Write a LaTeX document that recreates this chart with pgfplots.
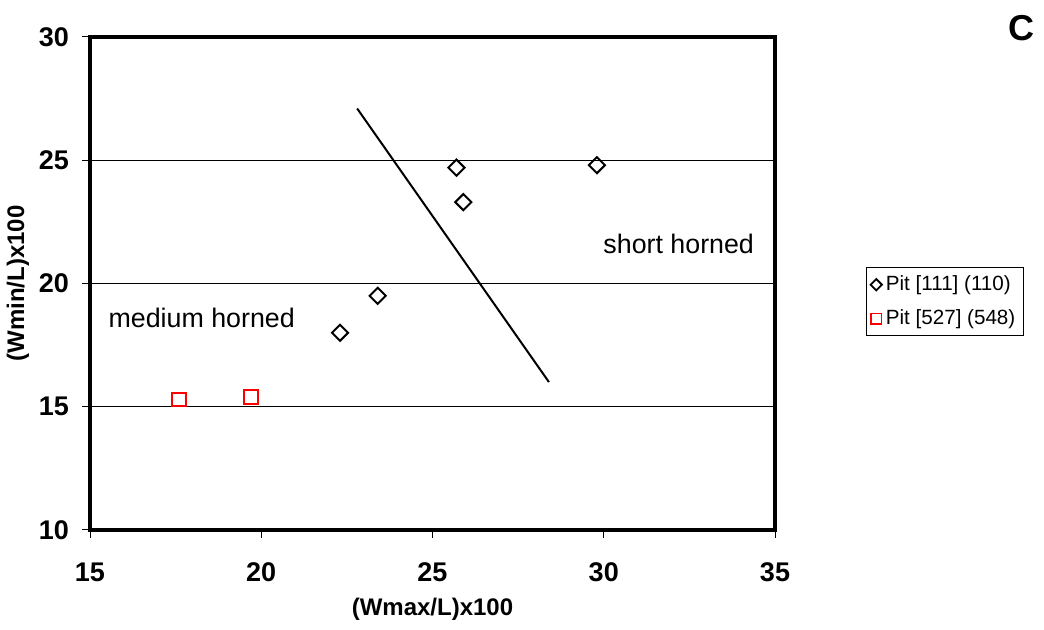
\documentclass[border=0pt]{standalone}
\usepackage{fontspec}
\setmainfont{Liberation Sans}
\usepackage{pgfplots}
\pgfplotsset{compat=1.18}
\pgfplotsset{
  smalldiamond/.style={legend image code/.code={\draw[##1, mark size=2pt, line width=0.9pt] plot coordinates {(0.13cm,0cm)};}},
  smallsquare/.style={legend image code/.code={\draw[##1, mark size=2.6pt, line width=0.9pt] plot coordinates {(0.13cm,0cm)};}},
}
\begin{document}
\begin{tikzpicture}
\path[use as bounding box] (0,0) rectangle (522pt,315pt);
\begin{axis}[
  at={(45pt,50pt)}, anchor=south west,
  scale only axis, width=342.5pt, height=246.5pt,
  xmin=15, xmax=35, ymin=10, ymax=30,
  xtick={15,20,25,30,35}, ytick={10,15,20,25,30},
  tick align=outside, major tick length=4pt,
  tick style={black, line width=0.5pt},
  xtick pos=bottom, ytick pos=left,
  axis line style={line width=2pt},
  ymajorgrids, grid style={black, line width=0.5pt},
  /pgf/number format/assume math mode=true,
  ticklabel style={font=\fontsize{13.5}{15}\selectfont\bfseries},
  xticklabel style={yshift=-9pt},
  yticklabel style={xshift=-3pt},
  xlabel={(Wmax/L)x100}, ylabel={(Wmin/L)x100},
  label style={font=\fontsize{12}{14}\selectfont\bfseries},
  xlabel style={yshift=-1pt},
  ylabel style={yshift=-2pt},
  legend style={at={(1.133,0.533)}, anchor=north west, draw=black, line width=0.5pt,
    font=\fontsize{10.3}{12}\selectfont, inner sep=2pt, row sep=4pt,
    legend cell align=left},
  clip=false,
]
\addplot[only marks, mark=square, mark size=2.85pt, mark options={rotate=45}, black, line width=1pt, smalldiamond]
  coordinates {(22.3,18.0) (23.4,19.5) (25.7,24.7) (25.9,23.3) (29.8,24.8)};
\addlegendentry{Pit [111] (110)}
\addplot[only marks, mark=square, mark size=3.4pt, red, line width=1pt, smallsquare]
  coordinates {(17.6,15.3) (19.7,15.4)};
\addlegendentry{Pit [527] (548)}
\addplot[black, line width=1pt, forget plot] coordinates {(22.8,27.1) (28.4,16.0)};
\node[anchor=west, inner sep=0pt, font=\fontsize{13.4}{15}\selectfont] at (axis cs:15.53,18.6) {medium horned};
\node[anchor=west, inner sep=0pt, font=\fontsize{13.4}{15}\selectfont] at (axis cs:29.98,21.6) {short horned};
\end{axis}
\node[font=\fontsize{18}{20}\selectfont\bfseries] at (510.5pt,301pt) {C};
\end{tikzpicture}
\end{document}
